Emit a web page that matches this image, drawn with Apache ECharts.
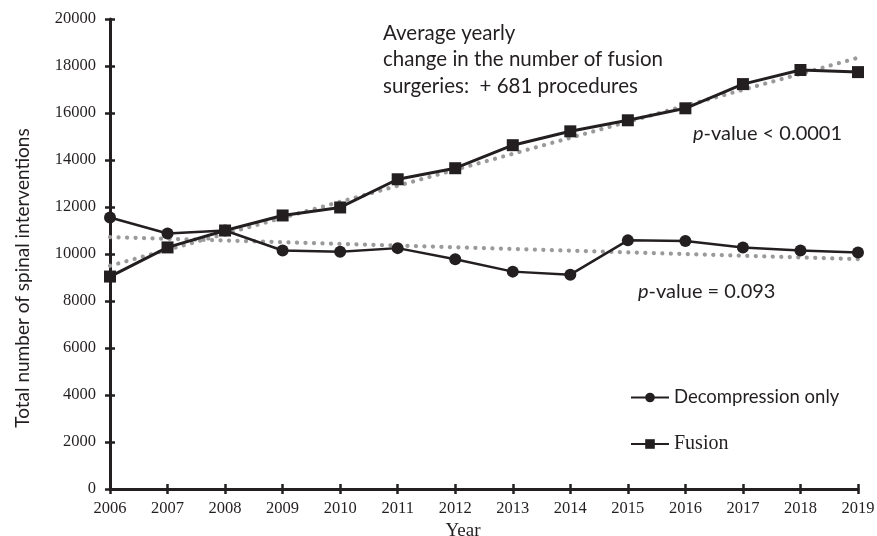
<!DOCTYPE html>
<html>
<head>
<meta charset="utf-8">
<script src="https://cdn.jsdelivr.net/npm/echarts@6/dist/echarts.min.js"></script>
<style>
  html, body { margin: 0; padding: 0; background: #fff; }
  #chart { width: 877px; height: 536px; }
</style>
</head>
<body>
<div id="chart"></div>
<script>
// Annual spinal surgery counts, 2006-2019
const years = ['2006','2007','2008','2009','2010','2011','2012','2013','2014','2015','2016','2017','2018','2019'];
const decompression = [11550, 10870, 11000, 10150, 10100, 10250, 9780, 9250, 9120, 10580, 10550, 10280, 10150, 10060];
const fusion = [9040, 10280, 11000, 11640, 11980, 13180, 13650, 14630, 15220, 15690, 16200, 17230, 17830, 17740];
// Linear trend end values (first and last year)
const decompressionTrend = [10720, 9780];
const fusionTrend = [9500, 18350];

const INK = '#231f20';
const SERIF = '"Liberation Serif", "Times New Roman", serif';
const SANS = 'Lato, "Open Sans", sans-serif';

const GRID = { left: 110, right: 19, top: 19, bottom: 47, outerBoundsMode: 'none', containLabel: false };
const PLOT_W = 877 - GRID.left - GRID.right;
const PLOT_H = 536 - GRID.top - GRID.bottom;

function trendData(ends) {
  return years.map((y, i) => i === 0 ? ends[0] : (i === years.length - 1 ? ends[1] : '-'));
}

const trendStyle = { color: '#9a9a9a', width: 4.2, type: [0.1, 8.4], cap: 'round' };
const tickStyle = { color: INK, width: 2.5 };

const chart = echarts.init(document.getElementById('chart'));
chart.setOption({
  animation: false,
  grid: GRID,
  xAxis: [{
    type: 'category', data: years, boundaryGap: false,
    axisLine: { lineStyle: { color: INK, width: 3 } },
    axisTick: { length: 5, lineStyle: tickStyle },
    axisLabel: { color: INK, fontFamily: SERIF, fontSize: 16.5, margin: 11 },
    name: 'Year', nameLocation: 'middle', nameGap: 29,
    nameTextStyle: { color: INK, fontFamily: SERIF, fontSize: 19, padding: [0, 42, 0, 0] }
  }, {
    // upward half of the crossing ticks, placed on the bottom edge
    type: 'category', data: years, boundaryGap: false, position: 'top', offset: -PLOT_H,
    axisLine: { show: false },
    axisTick: { show: true, length: 5, lineStyle: tickStyle },
    axisLabel: { show: false }
  }],
  yAxis: [{
    type: 'value', min: 0, max: 20000, interval: 2000,
    axisLine: { show: true, lineStyle: { color: INK, width: 3 } },
    axisTick: { show: true, length: 5, lineStyle: tickStyle },
    splitLine: { show: false },
    axisLabel: { color: INK, fontFamily: SERIF, fontSize: 16.5, margin: 14, formatter: v => String(v) }
  }, {
    // rightward half of the crossing ticks, placed on the left edge
    type: 'value', min: 0, max: 20000, interval: 2000, position: 'right', offset: -PLOT_W,
    axisLine: { show: false },
    axisTick: { show: true, length: 5, lineStyle: tickStyle },
    splitLine: { show: false },
    axisLabel: { show: false }
  }],
  legend: {
    orient: 'vertical', left: 630, top: 388, itemGap: 27, padding: 0,
    itemWidth: 38, itemHeight: 12,
    data: ['Decompression only', 'Fusion'],
    formatter: name => name === 'Fusion' ? '{s|Fusion}' : '{d|' + name + '}',
    textStyle: {
      color: INK,
      rich: {
        d: { fontFamily: SANS, fontSize: 18.5, lineHeight: 20, color: INK },
        s: { fontFamily: SERIF, fontSize: 20, lineHeight: 20, color: INK }
      }
    }
  },
  series: [
    {
      name: 'Decompression trend', type: 'line', data: trendData(decompressionTrend),
      connectNulls: true, symbol: 'none', lineStyle: trendStyle, z: 1, silent: true
    },
    {
      name: 'Fusion trend', type: 'line', data: trendData(fusionTrend),
      connectNulls: true, symbol: 'none', lineStyle: trendStyle, z: 1, silent: true
    },
    {
      name: 'Decompression only', type: 'line', data: decompression,
      symbol: 'circle', symbolSize: 12,
      itemStyle: { color: INK }, lineStyle: { color: INK, width: 2.5 }, z: 3
    },
    {
      name: 'Fusion', type: 'line', data: fusion,
      symbol: 'rect', symbolSize: 12,
      itemStyle: { color: INK }, lineStyle: { color: INK, width: 3 }, z: 4
    },
    {
      // binds the secondary tick axes
      name: 'ticks', type: 'line', data: [], xAxisIndex: 1, yAxisIndex: 1, silent: true
    }
  ],
  graphic: [
    {
      type: 'text', x: 23, y: 278, rotation: Math.PI / 2,
      style: {
        text: 'Total number of spinal interventions',
        align: 'center', verticalAlign: 'middle',
        fontFamily: SANS, fontSize: 19, fill: INK
      }
    },
    {
      type: 'text', left: 383, top: 20,
      style: {
        text: 'Average yearly\nchange in the number of fusion\nsurgeries:  + 681 procedures',
        fontFamily: SANS, fontSize: 20.5, lineHeight: 26.5, fill: INK
      }
    },
    {
      type: 'text', left: 693, top: 121,
      style: {
        text: '{i|p}-value < 0.0001',
        fontFamily: SANS, fontSize: 20, lineHeight: 26, fill: INK,
        rich: { i: { fontFamily: SANS, fontSize: 20, lineHeight: 26, fontStyle: 'italic', fill: INK } }
      }
    },
    {
      type: 'text', left: 638, top: 279,
      style: {
        text: '{i|p}-value = 0.093',
        fontFamily: SANS, fontSize: 20, lineHeight: 26, fill: INK,
        rich: { i: { fontFamily: SANS, fontSize: 20, lineHeight: 26, fontStyle: 'italic', fill: INK } }
      }
    }
  ]
});
</script>
</body>
</html>
